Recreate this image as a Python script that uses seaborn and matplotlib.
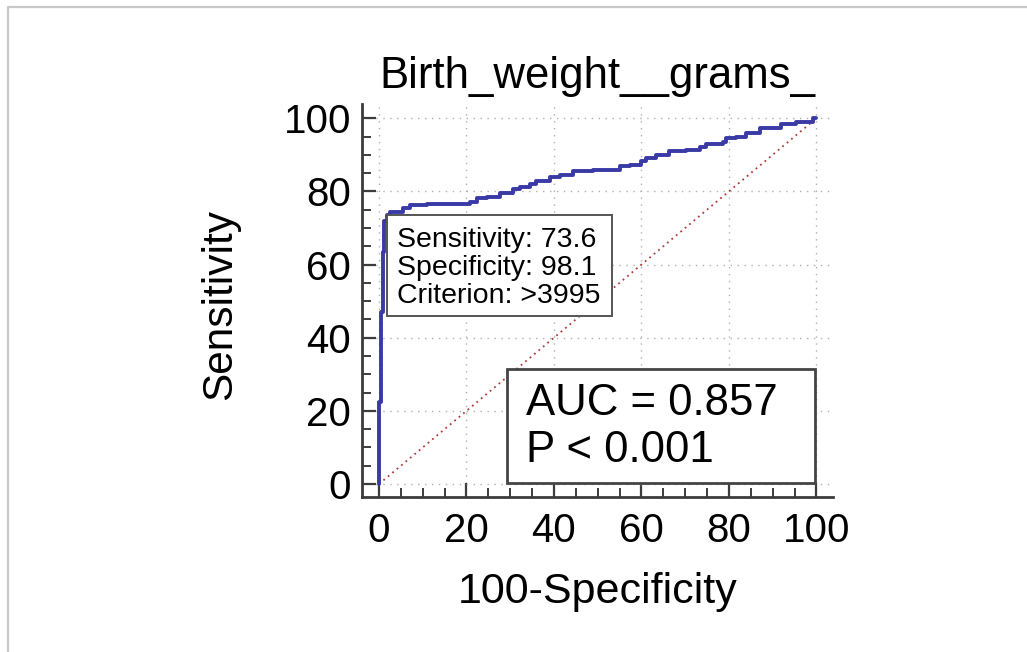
import matplotlib
matplotlib.use("Agg")

import matplotlib.pyplot as plt
from matplotlib.patches import Rectangle
from matplotlib.lines import Line2D
from matplotlib.ticker import MultipleLocator
import pandas as pd
import seaborn as sns

# ROC staircase (100-Specificity, Sensitivity)
fpr = [0, 0, 0.5, 0.5, 0.8, 0.8, 1.2, 1.2, 1.9, 1.9, 2.5, 2.5, 5.5, 5.5, 7.0, 7.0,
       11.0, 11.0, 20.8, 20.8, 22.3, 22.3, 24.6, 24.6, 27.6, 27.6, 30.7, 30.7,
       32.2, 32.2, 34.5, 34.5, 36.0, 36.0, 39.0, 39.0, 41.3, 41.3, 44.3, 44.3,
       48.9, 48.9, 55.0, 55.0, 57.3, 57.3, 60.0, 60.0, 61.1, 61.1, 63.4, 63.4,
       66.4, 66.4, 70.3, 70.3, 73.3, 73.3, 74.8, 74.8, 78.6, 78.6, 79.4, 79.4,
       81.7, 81.7, 84.0, 84.0, 87.0, 87.0, 90.8, 90.8, 91.9, 91.9, 95.4, 95.4,
       99.2, 99.2, 100]
tpr = [0, 22.5, 22.5, 47.0, 47.0, 63.5, 63.5, 72.0, 72.0, 73.6, 73.6, 74.4, 74.4,
       75.5, 75.5, 76.2, 76.2, 76.6, 76.6, 77.2, 77.2, 78.1, 78.1, 78.6, 78.6,
       79.5, 79.5, 80.6, 80.6, 81.3, 81.3, 82.0, 82.0, 82.9, 82.9, 83.9, 83.9,
       84.5, 84.5, 85.7, 85.7, 85.9, 85.9, 87.0, 87.0, 87.2, 87.2, 88.3, 88.3,
       89.1, 89.1, 90.0, 90.0, 91.1, 91.1, 91.3, 91.3, 92.1, 92.1, 92.9, 92.9,
       93.6, 93.6, 94.5, 94.5, 94.8, 94.8, 96.1, 96.1, 97.3, 97.3, 97.4, 97.4,
       98.4, 98.4, 99.1, 99.1, 100, 100]
diag = [0, 100]

title = "Birth_weight__grams_"
sens, spec, crit = 73.6, 98.1, ">3995"
auc_txt = "AUC = 0.857"
p_txt = "P < 0.001"

sns.set_style("white")
plt.rcParams["font.family"] = ["Liberation Sans", "DejaVu Sans"]
plt.rcParams["text.color"] = "black"
plt.rcParams["axes.labelcolor"] = "black"
plt.rcParams["xtick.color"] = "black"
plt.rcParams["ytick.color"] = "black"

W, H = 1027, 652
fig = plt.figure(figsize=(W / 100, H / 100), dpi=100)
# axes placed in pixels: left spine 362, right 833, bottom 497, top 104
ax = fig.add_axes([362 / W, 1 - 497 / H, (833 - 362) / W, (497 - 104) / H])

roc = pd.DataFrame({"fpr": fpr, "tpr": tpr})
sns.lineplot(data=roc, x="fpr", y="tpr", sort=False, estimator=None,
             color="#3a3aa6", lw=2.8, ax=ax, zorder=4)
sns.lineplot(x=diag, y=diag, color="#b03a3a", lw=1.3, ax=ax,
             linestyle=(0, (1, 2.2)), zorder=3)

ax.set_xlim(-3.89, 103.8)
ax.set_ylim(-3.55, 103.9)
ax.xaxis.set_major_locator(MultipleLocator(20))
ax.yaxis.set_major_locator(MultipleLocator(20))
ax.xaxis.set_minor_locator(MultipleLocator(5))
ax.yaxis.set_minor_locator(MultipleLocator(5))
ax.grid(True, which="major", color="#b0b0b0", lw=1.0, linestyle=(0, (1, 4)))

for s in ["top", "right"]:
    ax.spines[s].set_visible(False)
for s in ["left", "bottom"]:
    ax.spines[s].set_color("#3c3c3c")
    ax.spines[s].set_linewidth(2.0)

ax.tick_params(which="both", bottom=True, left=True, direction="in",
               color="#3c3c3c")
ax.tick_params(which="major", length=10, width=1.6, labelsize=29,
               labelcolor="black")
ax.tick_params(which="minor", length=6.5, width=1.4)
ax.tick_params(axis="x", which="major", pad=11)
ax.tick_params(axis="y", which="major", pad=8)

ax.set_xlabel("100-Specificity", fontsize=31)
ax.set_ylabel("Sensitivity", fontsize=30.5)
ax.xaxis.set_label_coords(0.501, -0.19)
ax.yaxis.set_label_coords(-0.259, 0.489)

ax.text(0.5, 1.041, title, transform=ax.transAxes, ha="center",
        va="baseline", fontsize=31.5)

# criterion box anchored at the cut-off point
cx = 100 - spec
box_w, box_h = 51.4, 27.6
ax.add_patch(Rectangle((cx, sens - box_h), box_w, box_h, facecolor="white",
                       edgecolor="#555555", lw=1.4, zorder=5))
info_lines = [f"Sensitivity: {sens}", f"Specificity: {spec}", f"Criterion: {crit}"]
for i, line in enumerate(info_lines):
    ax.text(cx + 2.2, sens - 8.8 - i * 7.65, line, ha="left", va="baseline",
            fontsize=20.5, zorder=6)

# AUC box
ax.add_patch(Rectangle((29.3, 0.3), 70.4, 31.1, facecolor="white",
                       edgecolor="#444444", lw=2.0, zorder=5))
ax.text(33.6, 18.9, auc_txt, ha="left", va="baseline", fontsize=31.5, zorder=6)
ax.text(33.6, 6.1, p_txt, ha="left", va="baseline", fontsize=31.5, zorder=6)

# light frame on top and left edges
fig.add_artist(Line2D([8 / W, 1], [1 - 7 / H, 1 - 7 / H],
                      transform=fig.transFigure, color="#c8c8c8", lw=1.6))
fig.add_artist(Line2D([8 / W, 8 / W], [0, 1 - 7 / H],
                      transform=fig.transFigure, color="#c8c8c8", lw=1.6))

fig.savefig("out.png", dpi=100)
